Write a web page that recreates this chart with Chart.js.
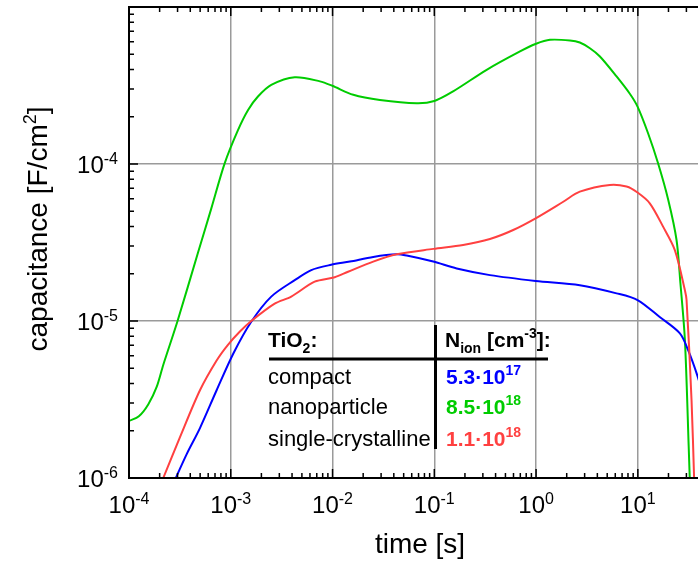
<!DOCTYPE html>
<html>
<head>
<meta charset="utf-8">
<script src="https://cdn.jsdelivr.net/npm/chart.js@4"></script>
<style>
body{margin:0;background:#fff}
#wrap{width:698px;height:564px}
</style>
</head>
<body>
<div id="wrap"><canvas id="myChart" width="698" height="564"></canvas></div>
<script>
// time [s] and capacitance [F/cm2]
var npTime=[1.0e-4,1.25e-4,1.55e-4,1.87e-4,2.17e-4,3.0e-4,4.76e-4,6.43e-4,8.71e-4,1.18e-3,1.48e-3,1.85e-3,2.5e-3,4.25e-3,7.52e-3,9.93e-3,1.6e-2,2.92e-2,6.7e-2,0.1,0.153,0.327,0.695,1.0,1.37,2.15,2.69,3.38,4.24,6.18,8.34,9.93,12.6,15.8,19.9,24.0,26.2,29.0,31.6,33.9];
var npCap=[2.31e-6,2.47e-6,2.95e-6,3.80e-6,5.25e-6,1.0e-5,2.72e-5,5.20e-5,1.01e-4,1.65e-4,2.21e-4,2.69e-4,3.19e-4,3.57e-4,3.36e-4,3.15e-4,2.76e-4,2.56e-4,2.44e-4,2.52e-4,2.90e-4,3.98e-4,5.21e-4,5.83e-4,6.18e-4,6.12e-4,5.94e-4,5.46e-4,4.84e-4,3.61e-4,2.80e-4,2.32e-4,1.57e-4,1.01e-4,5.9e-5,3.28e-5,1.74e-5,7.55e-6,1.58e-6,4.0e-7];

var compactTime=[2.0e-4,2.88e-4,3.69e-4,4.98e-4,7.26e-4,1.06e-3,1.59e-3,2.5e-3,4.25e-3,6.18e-3,9.7e-3,1.48e-2,2.51e-2,4.27e-2,5.35e-2,9.77e-2,0.166,0.352,0.99,2.69,6.18,9.93,16.4,25.9,31.2,38.8,44.7];
var compactCap=[6.0e-7,1.0e-6,1.42e-6,2.08e-6,3.62e-6,6.21e-6,9.89e-6,1.43e-5,1.82e-5,2.11e-5,2.28e-5,2.39e-5,2.56e-5,2.66e-5,2.61e-5,2.39e-5,2.16e-5,1.96e-5,1.80e-5,1.69e-5,1.50e-5,1.36e-5,1.06e-5,8.34e-6,6.52e-6,4.41e-6,3.2e-6];

var scTime=[1.58e-4,2.17e-4,3.17e-4,4.98e-4,7.26e-4,9.38e-4,1.23e-3,1.59e-3,2.70e-3,3.93e-3,6.67e-3,1.05e-2,1.42e-2,2.51e-2,4.27e-2,9.77e-2,0.192,0.352,0.596,0.99,1.85,2.69,5.31,7.74,9.93,13.1,17.7,23.1,29.0,30.1,33.7,35.7,37.2];
var scCap=[6.0e-7,1.0e-6,1.82e-6,3.62e-6,5.60e-6,7.05e-6,8.57e-6,1.0e-5,1.29e-5,1.43e-5,1.78e-5,1.90e-5,2.06e-5,2.39e-5,2.66e-5,2.88e-5,3.05e-5,3.33e-5,3.80e-5,4.51e-5,5.75e-5,6.67e-5,7.36e-5,7.18e-5,6.58e-5,5.62e-5,3.99e-5,2.83e-5,1.57e-5,1.36e-5,3.13e-6,1.0e-6,4.0e-7];

// tick label exponents (10^n)
var xTickExp=[-4,-3,-2,-1,0,1];
var yTickExp=[-6,-5,-4];

// table in the plot
var tableRows=["compact","nanoparticle","single-crystalline"];
var tableMant=["5.3","8.5","1.1"];
var tableExp=["17","18","18"];

var BLUE="#0000ff", GREEN="#00cc00", RED="#ff4040";
var FONT="'Liberation Sans', Arial, sans-serif";

function pts(t,c){
    var out=[];
    for(var i=0;i<t.length;i++){ out.push({x:t[i],y:c[i]}); }
    return out;
}

// draws text pieces one after another (for super/subscripts)
function drawParts(ctx,x,y,parts,align){
    var w=0;
    parts.forEach(function(p){ ctx.font=p.f; p.w=ctx.measureText(p.t).width; w+=p.w; });
    var cx=x;
    if(align==="right") cx=x-w;
    if(align==="center") cx=x-w/2;
    parts.forEach(function(p){
        ctx.font=p.f;
        ctx.fillStyle=p.c||"#000";
        ctx.fillText(p.t,cx,y+(p.dy||0));
        cx+=p.w;
    });
}

function isMajor(v){
    var e=Math.log10(v);
    return Math.abs(e-Math.round(e))<1e-6;
}
function mantissa(v){
    var e=Math.floor(Math.log10(v)+1e-9);
    return v/Math.pow(10,e);
}

var axesPlugin={
    id:"axesAndTable",
    afterDatasetsDraw:function(chart){
        var ctx=chart.ctx, a=chart.chartArea, xs=chart.scales.x, ys=chart.scales.y;
        ctx.save();
        ctx.textAlign="left";
        ctx.textBaseline="alphabetic";
        ctx.strokeStyle="#000";
        ctx.lineWidth=2;
        ctx.beginPath();
        ctx.moveTo(a.left,a.top); ctx.lineTo(a.right,a.top);
        ctx.moveTo(a.left,a.top-1); ctx.lineTo(a.left,a.bottom+1);
        ctx.moveTo(a.left,a.bottom); ctx.lineTo(a.right,a.bottom);
        ctx.stroke();

        // inward ticks
        ctx.lineWidth=1.5;
        ctx.beginPath();
        xs.ticks.forEach(function(t){
            var m=Math.round(mantissa(t.value));
            if(Math.abs(mantissa(t.value)-m)>1e-6) return;
            var px=xs.getPixelForValue(t.value);
            if(px<a.left||px>a.right) return;
            var len=(m===1||m===10)?9:5;
            ctx.moveTo(px,a.bottom); ctx.lineTo(px,a.bottom-len);
            ctx.moveTo(px,a.top); ctx.lineTo(px,a.top+len);
        });
        ys.ticks.forEach(function(t){
            var m=Math.round(mantissa(t.value));
            if(Math.abs(mantissa(t.value)-m)>1e-6) return;
            var py=ys.getPixelForValue(t.value);
            var len=(m===1||m===10)?9:5;
            ctx.moveTo(a.left,py); ctx.lineTo(a.left+len,py);
        });
        ctx.stroke();

        // tick labels
        var big="24px "+FONT, sup="16px "+FONT;
        xTickExp.forEach(function(e){
            var px=xs.getPixelForValue(Math.pow(10,e));
            drawParts(ctx,px,a.bottom+35,[{t:"10",f:big},{t:String(e),f:sup,dy:-9}],"center");
        });
        yTickExp.forEach(function(e){
            var py=ys.getPixelForValue(Math.pow(10,e));
            drawParts(ctx,a.left-11,py+9,[{t:"10",f:big},{t:String(e),f:sup,dy:-9}],"right");
        });

        // axis titles
        var tf="28px "+FONT;
        drawParts(ctx,420,553,[{t:"time [s]",f:tf}],"center");
        ctx.save();
        ctx.translate(47,229);
        ctx.rotate(-Math.PI/2);
        drawParts(ctx,0,0,[{t:"capacitance [F/cm",f:tf},{t:"2",f:"18px "+FONT,dy:-11},{t:"]",f:tf}],"center");
        ctx.restore();

        // table
        var bf="bold 21px "+FONT, bs="bold 14px "+FONT, nf="22px "+FONT;
        ctx.lineWidth=3;
        ctx.beginPath();
        ctx.moveTo(269,359); ctx.lineTo(548,359);
        ctx.moveTo(435.5,325); ctx.lineTo(435.5,449);
        ctx.stroke();
        drawParts(ctx,268,347,[{t:"TiO",f:bf},{t:"2",f:bs,dy:6},{t:":",f:bf}],"left");
        drawParts(ctx,445,347,[{t:"N",f:bf},{t:"ion",f:bs,dy:6},{t:" [cm",f:bf},{t:"-3",f:bs,dy:-9},{t:"]:",f:bf}],"left");
        var cols=[BLUE,GREEN,RED];
        var base=[384,414,446];
        for(var i=0;i<tableRows.length;i++){
            drawParts(ctx,268,base[i],[{t:tableRows[i],f:nf}],"left");
            drawParts(ctx,446,base[i],[{t:tableMant[i]+"\u00b710",f:bf,c:cols[i]},{t:tableExp[i],f:bs,dy:-9,c:cols[i]}],"left");
        }
        ctx.restore();
    }
};

var gridColor=function(c){
    if(!c.tick) return "rgba(0,0,0,0)";
    return isMajor(c.tick.value)?"#9a9a9a":"rgba(0,0,0,0)";
};

var chart=new Chart(document.getElementById("myChart").getContext("2d"),{
    type:"line",
    data:{
        datasets:[
            {label:"single-crystalline",data:pts(scTime,scCap),borderColor:RED,borderWidth:2},
            {label:"compact",data:pts(compactTime,compactCap),borderColor:BLUE,borderWidth:2},
            {label:"nanoparticle",data:pts(npTime,npCap),borderColor:GREEN,borderWidth:2}
        ]
    },
    options:{
        responsive:false,
        animation:false,
        parsing:false,
        layout:{padding:{left:129,top:7,right:0,bottom:86}},
        elements:{
            point:{radius:0},
            line:{tension:0.3,fill:false}
        },
        plugins:{legend:{display:false},tooltip:{enabled:false}},
        scales:{
            x:{
                type:"logarithmic",min:1e-4,max:39,
                ticks:{display:false},
                border:{display:false},
                grid:{drawTicks:false,lineWidth:1.5,color:gridColor},
                afterFit:function(s){ s.height=0; }
            },
            y:{
                type:"logarithmic",min:1e-6,max:1e-3,
                ticks:{display:false},
                border:{display:false},
                grid:{drawTicks:false,lineWidth:1.5,color:gridColor},
                afterFit:function(s){ s.width=0; }
            }
        }
    },
    plugins:[axesPlugin]
});
</script>
</body>
</html>
